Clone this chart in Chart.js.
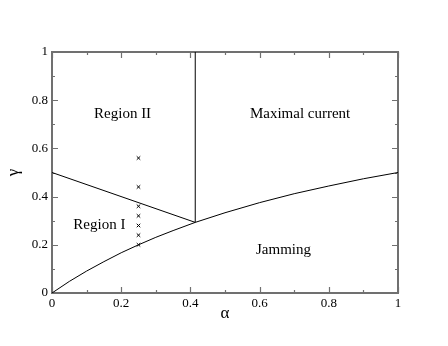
<!DOCTYPE html>
<html>
<head>
<meta charset="utf-8">
<script src="https://cdn.jsdelivr.net/npm/chart.js@4.4.1/dist/chart.umd.min.js"></script>
<style>
  html, body { margin: 0; padding: 0; background: #fff; }
  #wrap { width: 448px; height: 346px; }
</style>
</head>
<body>
<div id="wrap"><canvas id="phase" width="448" height="346"></canvas></div>
<script>
// boundary between region I and region II
const lineIAlpha = [0, 0.414];
const lineIGamma = [0.5, 0.293];
// vertical boundary of maximal current
const lineVAlpha = [0.414, 0.414];
const lineVGamma = [0.293, 1];
// jamming boundary curve
const curveAlpha = [0, 0.05, 0.1, 0.15, 0.2, 0.25, 0.3, 0.35, 0.414, 0.5, 0.6, 0.7, 0.8, 0.9, 1];
const curveGamma = [0, 0.048, 0.091, 0.13, 0.167, 0.2, 0.231, 0.259, 0.293, 0.333, 0.375, 0.412, 0.444, 0.474, 0.5];
// simulation points
const crossAlpha = [0.25, 0.25, 0.25, 0.25, 0.25, 0.25, 0.25];
const crossGamma = [0.2, 0.24, 0.28, 0.32, 0.36, 0.44, 0.56];
// region labels
const regionNames = ['Region II', 'Maximal current', 'Region I', 'Jamming'];
const regionAlpha = [0.204, 0.717, 0.137, 0.669];
const regionGamma = [0.744, 0.744, 0.283, 0.18];
const tickMajor = [0, 0.2, 0.4, 0.6, 0.8, 1];
const tickMinor = [0.1, 0.3, 0.5, 0.7, 0.9];

const toPts = (xs, ys) => xs.map((x, i) => ({ x: x, y: ys[i] }));
const SERIF = 'Liberation Serif, "Times New Roman", serif';
const FRAME = '#707070';

const lineSet = (pts) => ({
    data: pts,
    showLine: true,
    borderColor: '#000',
    borderWidth: 1,
    pointRadius: 0,
    fill: false,
    tension: 0
});

// frame, inward ticks and text labels
const decor = {
    id: 'decor',
    beforeDatasetsDraw(chart) {
        const { ctx, chartArea: a, scales: { x, y } } = chart;
        ctx.save();
        ctx.strokeStyle = FRAME;
        ctx.lineWidth = 1.2;
        const tick = (len, vals) => {
            vals.forEach(v => {
                const px = Math.round(x.getPixelForValue(v)) + 0.5;
                const py = Math.round(y.getPixelForValue(v)) + 0.5;
                ctx.beginPath();
                ctx.moveTo(px, a.bottom); ctx.lineTo(px, a.bottom - len);
                ctx.moveTo(px, a.top); ctx.lineTo(px, a.top + len);
                ctx.moveTo(a.left, py); ctx.lineTo(a.left + len, py);
                ctx.moveTo(a.right, py); ctx.lineTo(a.right - len, py);
                ctx.stroke();
            });
        };
        tick(6, tickMajor);
        tick(3, tickMinor);
        ctx.lineWidth = 2;
        ctx.strokeRect(a.left, a.top, a.right - a.left, a.bottom - a.top);
        ctx.restore();
    },
    afterDraw(chart) {
        const { ctx, scales: { x, y } } = chart;
        ctx.save();
        ctx.fillStyle = '#000';
        ctx.font = '15px ' + SERIF;
        ctx.textAlign = 'center';
        ctx.textBaseline = 'middle';
        regionNames.forEach((name, i) => {
            ctx.fillText(name, x.getPixelForValue(regionAlpha[i]), y.getPixelForValue(regionGamma[i]));
        });
        ctx.font = '17px ' + SERIF;
        ctx.fillText('α', (x.left + x.right) / 2, 314);
        ctx.translate(14, (y.top + y.bottom) / 2);
        ctx.rotate(-Math.PI / 2);
        ctx.fillText('γ', 0, 0);
        ctx.restore();
    }
};

const fmt = (v) => (v === 0 || v === 1) ? String(v) : v.toFixed(1);

new Chart(document.getElementById('phase'), {
    type: 'scatter',
    data: {
        datasets: [
            lineSet(toPts(lineIAlpha, lineIGamma)),
            lineSet(toPts(lineVAlpha, lineVGamma)),
            lineSet(toPts(curveAlpha, curveGamma)),
            {
                data: toPts(crossAlpha, crossGamma),
                pointStyle: 'crossRot',
                pointRadius: 2.5,
                borderColor: '#000',
                borderWidth: 1,
                showLine: false
            }
        ]
    },
    options: {
        responsive: false,
        animation: false,
        layout: { padding: { left: 0, top: 52, right: 50, bottom: 0 } },
        plugins: { legend: { display: false }, tooltip: { enabled: false } },
        scales: {
            x: {
                type: 'linear', min: 0, max: 1,
                afterFit: (s) => { s.height = 53; },
                afterBuildTicks: (s) => { s.ticks = tickMajor.map(v => ({ value: v })); },
                grid: { display: false, drawTicks: false },
                border: { display: false },
                ticks: { callback: fmt, padding: 3, color: '#000', maxRotation: 0,
                         font: { family: SERIF, size: 13 } }
            },
            y: {
                type: 'linear', min: 0, max: 1,
                afterFit: (s) => { s.width = 52; },
                afterBuildTicks: (s) => { s.ticks = tickMajor.map(v => ({ value: v })); },
                grid: { display: false, drawTicks: false },
                border: { display: false },
                ticks: { callback: fmt, padding: 4, color: '#000',
                         font: { family: SERIF, size: 13 } }
            }
        }
    },
    plugins: [decor]
});
</script>
</body>
</html>
